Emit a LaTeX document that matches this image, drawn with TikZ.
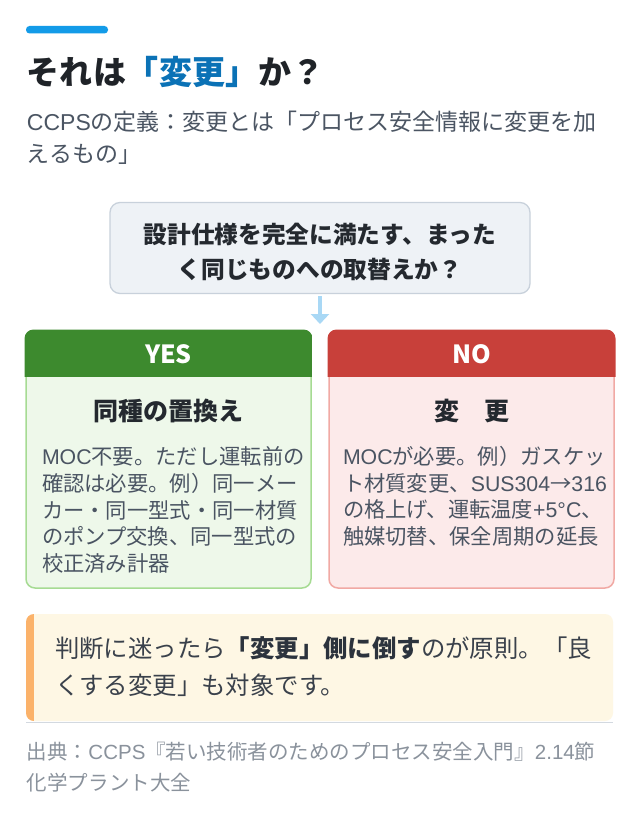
\documentclass[tikz,border=0pt]{standalone}
\usepackage{fontspec}
\setmainfont{Noto Sans CJK JP}
\newfontfamily\latf{Liberation Sans}
\usetikzlibrary{arrows.meta}
\definecolor{barblue}{HTML}{139BE8}
\definecolor{titleink}{HTML}{1F2328}
\definecolor{titleblue}{HTML}{0B72B6}
\definecolor{subink}{HTML}{4B5563}
\definecolor{qfill}{HTML}{EEF2F6}
\definecolor{qline}{HTML}{C8D1DB}
\definecolor{qink}{HTML}{24292F}
\definecolor{arrowblue}{HTML}{A9D8F5}
\definecolor{yeshead}{HTML}{3D8A2E}
\definecolor{yesbody}{HTML}{EEF8EA}
\definecolor{yesline}{HTML}{A6DB93}
\definecolor{nohead}{HTML}{C8403A}
\definecolor{nobody}{HTML}{FCEAEA}
\definecolor{noline}{HTML}{F1A9A4}
\definecolor{bodyink}{HTML}{4A5462}
\definecolor{notefill}{HTML}{FEF7E4}
\definecolor{notebar}{HTML}{FBB26A}
\definecolor{noteink}{HTML}{3A414B}
\definecolor{notebold}{HTML}{2C333D}
\definecolor{rulegray}{HTML}{D3D9E0}
\definecolor{srcink}{HTML}{8A929C}
\newcommand\fsz[2]{\fontsize{#1}{#2}\selectfont}
\newcommand\lt[1]{{\latf #1}}
\begin{document}
\begin{tikzpicture}[x=1pt,y=-1pt,
  txt/.style={inner sep=0pt, outer sep=0pt},
  subline/.style={txt, anchor=base west, font=\fsz{23}{30}, text=subink},
  qline/.style={txt, anchor=base, font=\fsz{23.7}{30}\bfseries, text=qink},
  headtxt/.style={txt, anchor=base, font=\fsz{25}{30}\bfseries, text=white},
  boxtitle/.style={txt, anchor=base, font=\fsz{25}{30}\bfseries, text=qink},
  bodyline/.style={txt, anchor=base west, font=\fsz{21.3}{27}, text=bodyink},
  noteline/.style={txt, anchor=base west, font=\fsz{24.4}{30}, text=noteink},
  srcline/.style={txt, anchor=base west, font=\fsz{20.5}{26}, text=srcink},
  card/.style={rounded corners=9pt, line width=1.5pt, minimum width=285pt, minimum height=257pt, inner sep=0pt}
]
\fill[white] (0,0) rectangle (640,832);
\useasboundingbox (0,0) rectangle (640,832);

% accent bar and title
\fill[barblue, rounded corners=3.5pt] (26,26) rectangle (108,33.5);
\node[txt, anchor=base west, font=\fsz{33}{40}\bfseries, text=titleink] (title) at (27,84.5)
  {それは{\color{titleblue}「変更」}か？};
\node[subline] (sub1) at (27,130.7) {\lt{CCPS}の定義：変更とは「プロセス安全情報に変更を加};
\node[subline] (sub2) at (27,162.7) {えるもの」};

% question box
\node[draw=qline, fill=qfill, line width=1.3pt, rounded corners=10pt,
      minimum width=420pt, minimum height=91pt, inner sep=0pt] (q) at (320,248) {};
\node[qline] (q1) at (320,243) {設計仕様を完全に満たす、まった};
\node[qline] (q2) at (320,278) {く同じものへの取替えか？};

% arrow
\coordinate (aend) at (320,324);
\draw[arrowblue, line width=4pt, shorten <=2pt, -{Triangle[width=18pt,length=10pt]}] (q.south) -- (aend);

% YES card
\node[card, draw=yesline, fill=yesbody] (yes) at (168.5,459.5) {};
\begin{scope}
  \clip[rounded corners=9pt] ([shift={(-0.75,-0.75)}]yes.north west) rectangle ([shift={(0.75,0.75)}]yes.south east);
  \fill[yeshead] ([shift={(-1,-1)}]yes.north west) rectangle ([shift={(1,0)}]yes.north east |- 0,377);
\end{scope}
\node[headtxt] (yeshd) at (168.5,363.5) {YES};
\node[boxtitle] (yesttl) at (168.5,420.5) {同種の置換え};
\node[bodyline] (y1) at (42,464.6) {\lt{MOC}不要。ただし運転前の};
\node[bodyline] (y2) at (42,491) {確認は必要。例）同一メー};
\node[bodyline] (y3) at (42,518) {カー・同一型式・同一材質};
\node[bodyline] (y4) at (42,544.5) {のポンプ交換、同一型式の};
\node[bodyline] (y5) at (42,571) {校正済み計器};

% NO card
\node[card, draw=noline, fill=nobody] (no) at (471.5,459.5) {};
\begin{scope}
  \clip[rounded corners=9pt] ([shift={(-0.75,-0.75)}]no.north west) rectangle ([shift={(0.75,0.75)}]no.south east);
  \fill[nohead] ([shift={(-1,-1)}]no.north west) rectangle ([shift={(1,0)}]no.north east |- 0,377);
\end{scope}
\node[headtxt] (nohd) at (471.5,363.5) {NO};
\node[boxtitle] (nottl) at (471.5,420.5) {変　更};
\begin{scope}
  \clip (no.north west) rectangle ([xshift=-1pt]no.south east);
  \node[bodyline] (n1) at (343,464) {\lt{MOC}が必要。例）ガスケッ};
  \node[bodyline] (n2) at (343,491) {ト材質変更、\lt{SUS304}→\lt{316}};
  \node[bodyline] (n3) at (343,517.5) {の格上げ、運転温度\lt{+5°C}、};
  \node[bodyline] (n4) at (343,544) {触媒切替、保全周期の延長};
\end{scope}

% note box
\fill[notefill, rounded corners=8pt] (26,614) rectangle (613,721);
\begin{scope}
  \clip[rounded corners=8pt] (26,614) rectangle (613,721);
  \fill[notebar] (26,614) rectangle (33.5,721);
\end{scope}
\node[noteline] (note1) at (55,657.3) {判断に迷ったら{\bfseries\color{notebold}「変更」側に倒す}のが原則。「良};
\node[noteline] (note2) at (55,694.3) {くする変更」も対象です。};
\draw[rulegray, line width=1pt] (26,722) -- (613,722);

% source
\node[srcline] (src1) at (27,759.8) {出典：\lt{CCPS}『若い技術者のためのプロセス安全入門』\lt{2.14}節};
\node[srcline] (src2) at (27,790.8) {化学プラント大全};
\end{tikzpicture}
\end{document}
